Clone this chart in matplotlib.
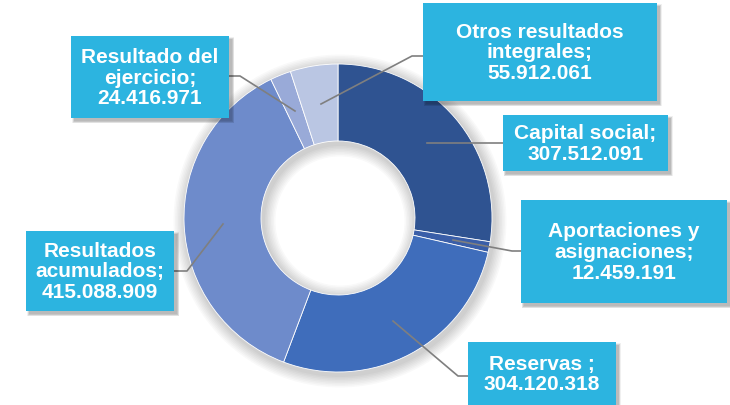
import matplotlib.pyplot as plt
from matplotlib.patches import Rectangle, Wedge

# Data
labels = ['Capital social', 'Aportaciones y\nasignaciones', 'Reservas ', 'Resultados\nacumulados',
          'Resultado del\nejercicio', 'Otros resultados\nintegrales']
values = [307512091, 12459191, 304120318, 415088909, 24416971, 55912061]
value_text = ['307.512.091', '12.459.191', '304.120.318', '415.088.909', '24.416.971', '55.912.061']
colors = ['#2F5391', '#3A5EA8', '#3F6DBB', '#6E8BCB', '#99AAD8', '#BAC6E3']

W, H = 730, 406
fig = plt.figure(figsize=(W / 100, H / 100), dpi=100)
ax = fig.add_axes([0, 0, 1, 1])

def Y(y):
    return H - y

cx, cy, r = 338, Y(219), 154

# soft shadow around the donut
for i in range(8):
    ax.add_patch(Wedge((cx + 2, cy - 3), r + 2 + i * 1.5, 0, 360, width=r / 2 + 4 + i * 3,
                       facecolor='black', alpha=0.025, linewidth=0, zorder=1))

ax.pie(values, colors=colors, startangle=90, counterclock=False, center=(cx, cy), radius=r,
       wedgeprops=dict(width=r / 2, edgecolor='white', linewidth=0.6), frame=True)
ax.set_xlim(0, W)
ax.set_ylim(0, H)
ax.set_aspect('equal')
ax.axis('off')

# label boxes: (x0, y0, x1, y1) in pixels, leader line points
boxes = [
    (503, 116, 668, 172),
    (521, 201, 727, 304),
    (468, 343, 616, 410),
    (26, 232, 174, 312),
    (71, 37, 229, 119),
    (423, 4, 657, 102),
]
leaders = [
    [(427, 144), (503, 144)],
    [(453, 241), (512, 252), (521, 252)],
    [(393, 322), (458, 377), (468, 377)],
    [(223, 225), (187, 272), (174, 272)],
    [(295, 112), (240, 77), (229, 77)],
    [(321, 105), (412, 57), (423, 57)],
]

for i in range(len(values)):
    x0, y0, x1, y1 = boxes[i]
    for k in range(5):
        ax.add_patch(Rectangle((x0 + 3 - k * 0.5, Y(y1) - 3 - k * 0.5), x1 - x0 + k, y1 - y0 + k,
                               facecolor='black', alpha=0.06, linewidth=0, zorder=3))
    ax.add_patch(Rectangle((x0, Y(y1)), x1 - x0, y1 - y0, facecolor='#2CB4E0',
                           linewidth=0, zorder=4))
    yc = (y0 + min(y1, H)) / 2
    ax.text((x0 + x1) / 2, Y(yc), labels[i] + ';\n' + value_text[i], ha='center', va='center',
            color='white', fontsize=15, fontweight='bold', family='Liberation Sans',
            linespacing=1.12, zorder=5)
    pts = leaders[i]
    ax.plot([p[0] for p in pts], [Y(p[1]) for p in pts], color='#7F7F7F', linewidth=1.2, zorder=2.5)

fig.savefig('out.png', dpi=100)
